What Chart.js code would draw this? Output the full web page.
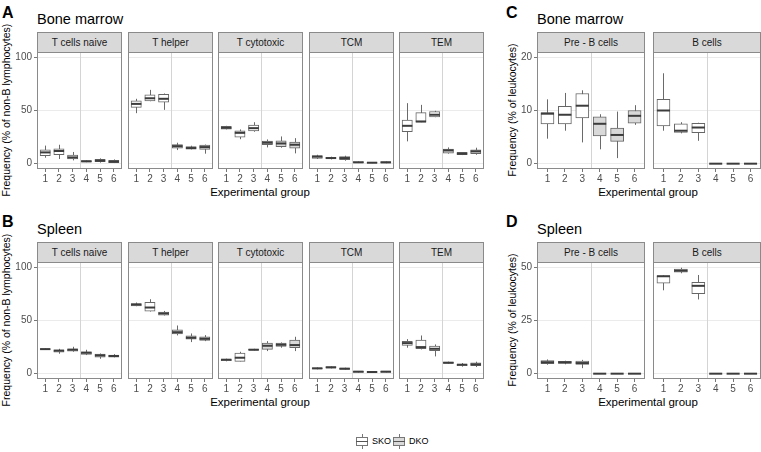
<!DOCTYPE html>
<html><head><meta charset="utf-8">
<script src="https://cdn.jsdelivr.net/npm/chart.js@4.4.1/dist/chart.umd.min.js"></script>
<style>
html,body{margin:0;padding:0;background:#fff;}
body{width:761px;height:452px;position:relative;overflow:hidden;font-family:"Liberation Sans",Arial,Helvetica,sans-serif;}
.lab{position:absolute;font-weight:bold;font-size:16px;line-height:16px;color:#000;}
.ttl{position:absolute;font-size:14.5px;line-height:14px;color:#000;white-space:nowrap;}
.strip{position:absolute;box-sizing:border-box;background:#d9d9d9;border:1px solid #8a8a8a;font-size:10px;line-height:19px;text-align:center;color:#1a1a1a;white-space:nowrap;}
.xt{position:absolute;font-size:11.5px;line-height:12px;color:#000;white-space:nowrap;transform:translate(-50%,-50%);}
.yt{position:absolute;font-size:10.5px;line-height:11px;white-space:nowrap;transform:translate(-50%,-50%) rotate(-90deg);color:#000;}
.key{position:absolute;width:12px;height:15px;}
.whisk{position:absolute;left:6px;top:0;width:1px;height:15px;background:#777;}
.kbox{position:absolute;left:0;top:3px;width:12px;height:9px;box-sizing:border-box;border:1px solid #777;}
.kmed{position:absolute;left:0;top:7px;width:12px;height:1px;background:#555;}
.ktxt{position:absolute;font-size:9px;line-height:10px;color:#000;transform:translateY(-50%);}
</style>
</head>
<body>
<div class="lab" style="left:2px;top:5px;">A</div>
<div class="ttl" style="left:37px;top:12px;">Bone marrow</div>
<div class="lab" style="left:2px;top:214px;">B</div>
<div class="ttl" style="left:37px;top:222px;">Spleen</div>
<div class="lab" style="left:506px;top:5px;">C</div>
<div class="ttl" style="left:537px;top:12px;">Bone marrow</div>
<div class="lab" style="left:506px;top:214px;">D</div>
<div class="ttl" style="left:537px;top:222px;">Spleen</div>

<div class="xt" style="left:260px;top:192px;">Experimental group</div>
<div class="xt" style="left:260px;top:402px;">Experimental group</div>
<div class="xt" style="left:648px;top:192px;">Experimental group</div>
<div class="xt" style="left:648px;top:402px;">Experimental group</div>

<div class="yt" style="left:6px;top:110px;">Frequency (% of non-B lymphocytes)</div>
<div class="yt" style="left:6px;top:320px;">Frequency (% of non-B lymphocytes)</div>
<div class="yt" style="left:512px;top:110px;">Frequency (% of leukocytes)</div>
<div class="yt" style="left:512px;top:320px;">Frequency (% of leukocytes)</div>

<div class="key" style="left:356px;top:434px;"><div class="whisk"></div><div class="kbox" style="background:#fff"></div><div class="kmed"></div></div>
<div class="ktxt" style="left:372px;top:441px;">SKO</div>
<div class="key" style="left:393px;top:434px;"><div class="whisk"></div><div class="kbox" style="background:#d9d9d9"></div><div class="kmed"></div></div>
<div class="ktxt" style="left:409px;top:441px;">DKO</div>

<script>
// ---- data ----
const groups = ['1', '2', '3', '4', '5', '6'];
const genotype = ['SKO', 'SKO', 'SKO', 'DKO', 'DKO', 'DKO'];
const legendLabels = ['SKO', 'DKO'];
// each entry: [lower whisker, Q1, median, Q3, upper whisker]
// A: bone marrow, % of non-B lymphocytes
const bmNaive     = [[5.6,7.5,10.6,13.1,17],[4.4,8.4,11.9,14,17.8],[3.1,4.4,5.9,8.1,11],[1.4,1.6,2.2,2.8,3.1],[1,1.9,2.8,4,5],[0.6,0.9,1.9,3.1,4]];
const bmHelper    = [[47.5,53,56.2,59,61],[58.7,59,61.5,64.7,69.4],[50.6,57.8,61,65.3,66],[12.8,14.7,16.5,18,19.7],[13.4,13.7,14.7,16,16.9],[9.4,13.4,15.6,17.5,18]];
const bmCytotoxic = [[32.2,32.5,33.7,35,35.6],[23,25,29,30.9,32.2],[30,30.9,33.4,36.2,39],[15.3,17.8,19.7,21.2,22.8],[15,16,19,21.6,25.6],[9.7,14.7,17.8,20.3,24]];
const bmTCM       = [[4.4,5,6.6,7.5,8.4],[4,4.7,5.3,5.9,6.6],[2.8,3.75,5.3,6.6,7.5],[0.6,0.9,1.25,1.9,2.2],[0.5,0.7,0.9,1.1,1.3],[0.4,0.6,1.2,1.9,2.2]];
const bmTEM       = [[21,30,35.6,41,56.9],[39,39,39.7,48,55.3],[43.7,44,46,49,49.7],[9.4,10,12.5,13.7,15.3],[8.1,8.4,9.4,10.6,10.9],[8.4,9.4,11.6,13.1,15]];
// B: spleen, % of non-B lymphocytes
const spNaive     = [[22.5,22.8,23.1,23.4,23.7],[18.75,20.3,21.6,22.5,23.4],[20.6,21.25,22.5,23.4,25.3],[17.5,18.1,19.7,20.6,22.5],[14,15.6,17.2,18.4,19],[15.3,15.6,16.6,17.5,18.4]];
const spHelper    = [[63.4,63.75,65,66,66.9],[58.4,58.75,62.2,67.2,70],[54.7,55,56.6,57.8,59],[36,37.5,39,41.25,45.3],[29.7,32.5,33.75,35.6,37.8],[30.6,31.25,32.8,34.7,36.25]];
const spCytotoxic = [[11.6,12.2,13.1,13.75,14.1],[11.6,11.6,15,19.4,20.6],[21.9,22.2,22.5,23.1,23.4],[21.25,22.8,26.25,28.75,30.6],[24.4,25.6,27.2,28.75,29.4],[21.25,24.4,26.9,31.6,34.7]];
const spTCM       = [[4.1,4.4,5,5.6,5.9],[5,5.3,5.9,6.6,6.9],[3.8,4,4.7,5.3,5.6],[1,1.25,1.9,2.2,2.5],[1.2,1.3,1.6,1.9,2.1],[1.1,1.25,1.9,2.2,2.4]];
const spTEM       = [[24.4,26.6,28.75,30.3,32.5],[22.8,23.4,25,31.6,35.9],[16.25,21.6,23.4,25.9,27.5],[9.4,9.7,10.3,10.9,11.3],[6.6,7.5,8.4,9,10],[6.25,7.5,8.75,10.3,11.25]];
// C: bone marrow, % of leukocytes
const bmPreB  = [[4.7,7.5,9.4,9.6,12.1],[6.2,7.5,9.2,10.8,13.3],[4.0,8.6,10.9,13.2,13.8],[2.7,5.2,7.5,8.8,9.3],[1.05,4.2,5.4,6.7,9.8],[7.3,7.6,9.0,10,11]];
const bmBcell = [[6.2,7.1,10,12.1,17],[5.7,5.9,6.2,7.5,7.8],[4.3,5.85,6.8,7.6,7.7],[0,0,0,0,0],[0,0,0,0,0],[0,0,0,0,0]];
// D: spleen, % of leukocytes
const spPreB  = [[4.2,4.7,5.4,6.2,6.7],[4.4,4.8,5.3,5.75,6.1],[2.6,4.35,5.0,5.9,6.5],[0,0,0,0,0],[0,0,0,0,0],[0,0,0,0,0]];
const spBcell = [[39.2,42.5,45.8,46,46.2],[47.2,47.7,48.4,49.2,49.8],[34.9,37.6,41.3,42.9,46.4],[0,0,0,0,0],[0,0,0,0,0],[0,0,0,0,0]];

const ticksTcells = [0, 50, 100];
const ticksBmB = [0, 10, 20];
const ticksSpB = [0, 25, 50];

// ---- layout ----
const FONT = '"Liberation Sans", Arial, Helvetica, sans-serif';
const abLefts = [37, 128, 218, 309, 399], abW = 85;
const cdLefts = [537, 653], cdW = 108;
const rowTop = {top: {plotTop: 52, plotH: 116.5}, bottom: {plotTop: 262, plotH: 117}};

const boxParts = {
  id: 'boxParts',
  beforeDatasetsDraw(chart, args, o) {
    const {ctx, chartArea: a, scales: {x, y}} = chart;
    ctx.save();
    ctx.lineWidth = 1;
    ctx.strokeStyle = '#d4d4d4';
    const vx = Math.round(x.getPixelForValue(3.5)) + 0.5;
    ctx.beginPath(); ctx.moveTo(vx, a.top); ctx.lineTo(vx, a.bottom); ctx.stroke();
    ctx.strokeStyle = '#6a6a6a';
    o.stats.forEach((s, i) => {
      const px = Math.round(x.getPixelForValue(i + 1)) + 0.5;
      ctx.beginPath();
      ctx.moveTo(px, y.getPixelForValue(s[0]));
      ctx.lineTo(px, y.getPixelForValue(s[4]));
      ctx.stroke();
    });
    ctx.restore();
  },
  afterDatasetsDraw(chart, args, o) {
    const {ctx, chartArea: a, scales: {x, y}} = chart;
    ctx.save();
    ctx.strokeStyle = '#3c3c3c';
    ctx.lineWidth = 2;
    o.stats.forEach((s, i) => {
      const px = x.getPixelForValue(i + 1), py = y.getPixelForValue(s[2]);
      ctx.beginPath(); ctx.moveTo(px - o.half, py); ctx.lineTo(px + o.half, py); ctx.stroke();
    });
    ctx.lineWidth = 1;
    ctx.strokeStyle = '#8a8a8a';
    const l = Math.round(a.left), t = Math.round(a.top), r = Math.round(a.right), b = Math.round(a.bottom);
    ctx.strokeRect(l + 0.5, t + 0.5, r - l - 1, b - t - 1);
    ctx.restore();
  }
};

function buildFacet(cfg) {
  const {left, row, width, stats, ymin, ymax, yticks, showY, title} = cfg;
  const {plotTop, plotH} = rowTop[row];
  const padTop = 8, axisH = 20, yW = showY ? 34 : 0;
  const strip = document.createElement('div');
  strip.className = 'strip';
  strip.style.left = left + 'px';
  strip.style.top = (plotTop - 20) + 'px';
  strip.style.width = width + 'px';
  strip.style.height = '21px';
  strip.textContent = title;
  document.body.appendChild(strip);

  const cw = width + yW + 2, ch = Math.round(plotH + padTop + axisH);
  const cv = document.createElement('canvas');
  cv.width = cw; cv.height = ch;
  cv.style.cssText = `position:absolute;left:${left - yW - 1}px;top:${plotTop - padTop}px;width:${cw}px;height:${ch}px;`;
  document.body.appendChild(cv);

  const boxW = 0.75 * width / 6.2;
  new Chart(cv, {
    type: 'bar',
    data: {
      datasets: [{
        label: title,
        data: stats.map((s, i) => ({x: i + 1, y: [s[1], s[3]]})),
        backgroundColor: genotype.map(g => g === legendLabels[0] ? '#ffffff' : '#d9d9d9'),
        borderColor: '#666666',
        borderWidth: 1,
        borderSkipped: false,
        barThickness: boxW
      }]
    },
    options: {
      responsive: false,
      animation: false,
      devicePixelRatio: 1,
      layout: {padding: {top: padTop, left: 1, right: 1, bottom: 0}},
      plugins: {legend: {display: false}, tooltip: {enabled: false}, title: {display: false},
        boxParts: {stats: stats, half: boxW / 2}},
      scales: {
        x: {
          type: 'linear', min: 0.4, max: 6.6, offset: false,
          afterBuildTicks: s => { s.ticks = groups.map((g, i) => ({value: i + 1})); },
          afterFit: s => { s.height = axisH; },
          grid: {drawOnChartArea: false, drawTicks: true, tickLength: 3, tickColor: '#777', offset: false},
          border: {display: false},
          ticks: {callback: v => groups[v - 1], padding: 1, color: '#4d4d4d', font: {size: 10, family: FONT},
            maxRotation: 0, autoSkip: false}
        },
        y: {
          min: ymin, max: ymax,
          afterBuildTicks: s => { s.ticks = yticks.map(v => ({value: v})); },
          afterFit: s => { s.width = yW; },
          grid: {color: '#ebebeb', lineWidth: 1, drawTicks: showY, tickLength: 3, tickColor: '#777'},
          border: {display: false},
          ticks: {display: showY, padding: 2, color: '#4d4d4d', font: {size: 10, family: FONT}}
        }
      }
    },
    plugins: [boxParts]
  });
}

const tNames = ['T cells naive', 'T helper', 'T cytotoxic', 'TCM', 'TEM'];
const bmT = [bmNaive, bmHelper, bmCytotoxic, bmTCM, bmTEM];
const spT = [spNaive, spHelper, spCytotoxic, spTCM, spTEM];
tNames.forEach((n, i) => {
  buildFacet({left: abLefts[i], row: 'top', width: abW, stats: bmT[i], ymin: -5, ymax: 105, yticks: ticksTcells, showY: i === 0, title: n});
  buildFacet({left: abLefts[i], row: 'bottom', width: abW, stats: spT[i], ymin: -5, ymax: 105, yticks: ticksTcells, showY: i === 0, title: n});
});
const bNames = ['Pre - B cells', 'B cells'];
const bmBs = [bmPreB, bmBcell];
const spBs = [spPreB, spBcell];
bNames.forEach((n, i) => {
  buildFacet({left: cdLefts[i], row: 'top', width: cdW, stats: bmBs[i], ymin: -1, ymax: 21, yticks: ticksBmB, showY: i === 0, title: n});
  buildFacet({left: cdLefts[i], row: 'bottom', width: cdW, stats: spBs[i], ymin: -2.5, ymax: 52.5, yticks: ticksSpB, showY: i === 0, title: n});
});
</script>
</body></html>
